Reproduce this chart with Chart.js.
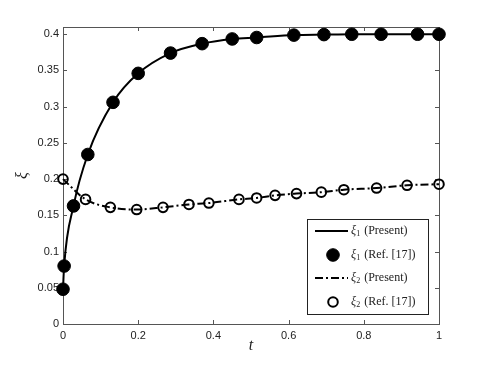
<!DOCTYPE html>
<html>
<head>
<meta charset="utf-8">
<script src="https://cdn.jsdelivr.net/npm/chart.js@4/dist/chart.umd.min.js"></script>
<style>
  html, body { margin: 0; padding: 0; background: #fff; }
  #wrap { width: 485px; height: 365px; }
</style>
</head>
<body>
<div id="wrap"><canvas id="chart"></canvas></div>
<script>
// xi_1, reference points (filled circles)
const xi1T = [0, 0.003, 0.028, 0.066, 0.133, 0.2, 0.286, 0.37, 0.45, 0.515, 0.614, 0.694, 0.768, 0.846, 0.943, 1.0];
const xi1Vals = [0.048, 0.080, 0.163, 0.234, 0.306, 0.346, 0.374, 0.387, 0.3935, 0.3955, 0.3988, 0.3995, 0.4, 0.4, 0.4, 0.4];

// xi_2, reference points (open circles)
const xi2T = [0, 0.060, 0.126, 0.196, 0.266, 0.335, 0.388, 0.468, 0.515, 0.564, 0.621, 0.687, 0.747, 0.834, 0.915, 1.0];
const xi2Vals = [0.200, 0.172, 0.161, 0.158, 0.161, 0.165, 0.167, 0.172, 0.174, 0.1776, 0.180, 0.182, 0.1854, 0.1877, 0.1915, 0.193];

const xTicks = [0, 0.2, 0.4, 0.6, 0.8, 1];
const yTicks = [0, 0.05, 0.1, 0.15, 0.2, 0.25, 0.3, 0.35, 0.4];

// legend entries: subscript, rest of label
const legendSub = ['1', '1', '2', '2'];
const legendText = ['(Present)', '(Ref. [17])', '(Present)', '(Ref. [17])'];

const axisColor = '#555';
const toPoints = (t, v) => t.map((x, i) => ({ x: x, y: v[i] }));

// box, inward ticks on all four sides (matlab style)
const framePlugin = {
    id: 'frame',
    beforeDatasetsDraw(chart) {
        const { ctx, chartArea: a, scales: { x, y } } = chart;
        ctx.save();
        ctx.strokeStyle = axisColor;
        ctx.lineWidth = 1;
        ctx.strokeRect(a.left + 0.5, a.top + 0.5, a.right - a.left, a.bottom - a.top);
        ctx.beginPath();
        xTicks.forEach(v => {
            const px = Math.round(x.getPixelForValue(v)) + 0.5;
            ctx.moveTo(px, a.bottom); ctx.lineTo(px, a.bottom - 4);
            ctx.moveTo(px, a.top); ctx.lineTo(px, a.top + 4);
        });
        yTicks.forEach(v => {
            const py = Math.round(y.getPixelForValue(v)) + 0.5;
            ctx.moveTo(a.left, py); ctx.lineTo(a.left + 4, py);
            ctx.moveTo(a.right, py); ctx.lineTo(a.right - 4, py);
        });
        ctx.stroke();
        ctx.restore();
    },
    afterDraw(chart) {
        const { ctx, chartArea: a } = chart;
        const w = 121, h = 95;
        const bx = a.right - 11 - w, by = a.bottom - 10 - h;
        ctx.save();
        ctx.fillStyle = '#fff';
        ctx.fillRect(bx, by, w, h);
        ctx.strokeStyle = '#222';
        ctx.lineWidth = 1;
        ctx.strokeRect(bx + 0.5, by + 0.5, w, h);

        const rows = [12, 36, 59, 83];
        const order = [0, 2, 1, 3]; // dataset index per legend row
        rows.forEach((dy, r) => {
            const ds = chart.data.datasets[order[r]];
            const cy = by + dy;
            ctx.save();
            if (ds.showLine) {
                ctx.strokeStyle = ds.borderColor;
                ctx.lineWidth = ds.borderWidth;
                ctx.setLineDash(ds.borderDash || []);
                ctx.beginPath();
                ctx.moveTo(bx + 8, cy);
                ctx.lineTo(bx + 41, cy);
                ctx.stroke();
            } else {
                ctx.beginPath();
                ctx.arc(bx + 26, cy, ds.pointRadius, 0, Math.PI * 2);
                if (ds.pointBackgroundColor !== 'transparent') {
                    ctx.fillStyle = ds.pointBackgroundColor;
                    ctx.fill();
                }
                ctx.strokeStyle = ds.pointBorderColor;
                ctx.lineWidth = ds.pointBorderWidth;
                ctx.stroke();
            }
            ctx.restore();

            let tx = bx + 44;
            ctx.fillStyle = '#222';
            ctx.textBaseline = 'middle';
            ctx.font = 'italic 12px "Liberation Serif"';
            ctx.fillText('ξ', tx, cy);
            tx += ctx.measureText('ξ').width;
            ctx.font = '8px "Liberation Serif"';
            ctx.fillText(legendSub[r], tx, cy + 3);
            tx += ctx.measureText(legendSub[r]).width + 4;
            ctx.font = '12px "Liberation Serif"';
            ctx.fillText(legendText[r], tx, cy);
        });
        ctx.restore();
    }
};

const ctx = document.getElementById('chart').getContext('2d');

new Chart(ctx, {
    type: 'scatter',
    data: {
        datasets: [
            {
                label: 'xi1 present',
                data: toPoints(xi1T, xi1Vals),
                showLine: true,
                borderColor: '#000',
                borderWidth: 2,
                pointRadius: 0,
                cubicInterpolationMode: 'monotone',
                clip: false
            },
            {
                label: 'xi2 present',
                data: toPoints(xi2T, xi2Vals),
                showLine: true,
                borderColor: '#000',
                borderWidth: 2,
                borderDash: [8, 3, 2, 3],
                pointRadius: 0,
                cubicInterpolationMode: 'monotone',
                clip: false
            },
            {
                label: 'xi1 ref',
                data: toPoints(xi1T, xi1Vals),
                showLine: false,
                pointStyle: 'circle',
                pointRadius: 6.3,
                pointBackgroundColor: '#000',
                pointBorderColor: '#000',
                pointBorderWidth: 1,
                clip: false
            },
            {
                label: 'xi2 ref',
                data: toPoints(xi2T, xi2Vals),
                showLine: false,
                pointStyle: 'circle',
                pointRadius: 4.8,
                pointBackgroundColor: 'transparent',
                pointBorderColor: '#000',
                pointBorderWidth: 2,
                clip: false
            }
        ]
    },
    options: {
        responsive: true,
        maintainAspectRatio: false,
        animation: false,
        layout: { padding: { left: 0, right: 46, top: 27, bottom: 0 } },
        scales: {
            x: {
                type: 'linear',
                min: 0,
                max: 1,
                afterFit: s => { s.height = 41; },
                afterBuildTicks: s => { s.ticks = xTicks.map(v => ({ value: v })); },
                grid: { display: false, drawTicks: false },
                border: { display: false },
                ticks: {
                    padding: 5,
                    color: '#222',
                    font: { family: '"Liberation Sans"', size: 11 },
                    callback: v => String(+v.toFixed(2))
                },
                title: {
                    display: true,
                    text: 't',
                    color: '#222',
                    font: { family: '"Liberation Serif"', size: 16, style: 'italic' },
                    padding: { top: 0, bottom: 10 }
                }
            },
            y: {
                min: 0,
                max: 0.41,
                afterFit: s => { s.width = 63; },
                afterBuildTicks: s => { s.ticks = yTicks.map(v => ({ value: v })); },
                grid: { display: false, drawTicks: false },
                border: { display: false },
                ticks: {
                    padding: 4,
                    color: '#222',
                    font: { family: '"Liberation Sans"', size: 11 },
                    callback: v => String(+v.toFixed(2))
                },
                title: {
                    display: true,
                    text: 'ξ',
                    color: '#222',
                    font: { family: '"Liberation Serif"', size: 16, style: 'italic' },
                    padding: { top: 13, bottom: 0 }
                }
            }
        },
        plugins: {
            legend: { display: false },
            tooltip: { enabled: false }
        }
    },
    plugins: [framePlugin]
});
</script>
</body>
</html>
